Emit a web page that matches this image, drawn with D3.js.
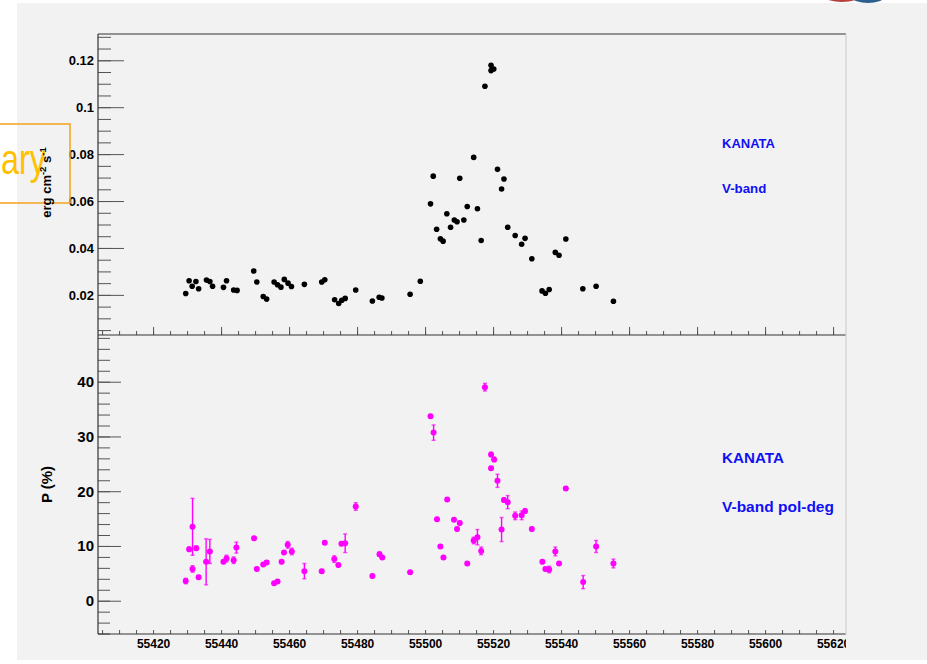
<!DOCTYPE html>
<html>
<head>
<meta charset="utf-8">
<script src="https://cdn.jsdelivr.net/npm/d3@7"></script>
<style>
  body { margin: 0; background: #fff; }
  text { font-family: "Liberation Sans", Arial, sans-serif; }
</style>
</head>
<body>
<script>
// V-band flux (top panel)
var fluxMjd = [55429.6, 55430.6, 55431.5, 55432.6, 55433.4, 55435.7, 55436.7, 55437.5,
  55440.7, 55441.6, 55443.7, 55444.7, 55449.6, 55450.5, 55452.4, 55453.4, 55455.6,
  55456.6, 55457.6, 55458.6, 55459.7, 55460.7, 55464.5, 55469.6, 55470.5, 55473.4,
  55474.6, 55475.5, 55476.5, 55479.6, 55484.5, 55486.5, 55487.3, 55495.6, 55498.6,
  55501.6, 55502.4, 55503.4, 55504.5, 55505.3, 55506.4, 55507.5, 55508.6, 55509.4,
  55510.2, 55511.4, 55512.4, 55514.3, 55515.4, 55516.5, 55517.6, 55519.4, 55519.4,
  55520.2, 55521.3, 55522.5, 55523.2, 55524.3, 55526.5, 55528.4, 55529.4, 55531.4,
  55534.4, 55535.4, 55536.5, 55538.3, 55539.4, 55541.4, 55546.4, 55550.3, 55555.4];
var fluxVal = [0.0206, 0.0260, 0.0237, 0.0257, 0.0226, 0.0263, 0.0257, 0.0237,
  0.0232, 0.0260, 0.0221, 0.0219, 0.0302, 0.0255, 0.0193, 0.0182, 0.0255,
  0.0243, 0.0233, 0.0266, 0.0250, 0.0236, 0.0245, 0.0255, 0.0264, 0.0179,
  0.0163, 0.0177, 0.0185, 0.0221, 0.0174, 0.0190, 0.0187, 0.0203, 0.0258,
  0.0588, 0.0706, 0.0480, 0.0439, 0.0429, 0.0546, 0.0488, 0.0519, 0.0512,
  0.0697, 0.0519, 0.0577, 0.0786, 0.0567, 0.0432, 0.1089, 0.1179, 0.1156,
  0.1163, 0.0735, 0.0651, 0.0694, 0.0488, 0.0453, 0.0416, 0.0441, 0.0354,
  0.0217, 0.0207, 0.0223, 0.0381, 0.0369, 0.0438, 0.0226, 0.0237, 0.0173];

// V-band polarization degree (bottom panel)
var polMjd = [55429.6, 55430.6, 55431.6, 55431.6, 55432.7, 55433.4, 55435.6, 55436.7,
  55440.7, 55441.6, 55443.7, 55444.5, 55449.7, 55450.5, 55452.4, 55453.4, 55455.6,
  55456.6, 55457.8, 55458.5, 55459.6, 55460.8, 55464.5, 55469.6, 55470.5, 55473.3,
  55474.5, 55475.4, 55476.5, 55479.6, 55484.5, 55486.6, 55487.4, 55495.6, 55501.6,
  55502.5, 55503.5, 55504.5, 55505.4, 55506.5, 55508.5, 55509.4, 55510.2, 55512.4,
  55514.3, 55515.4, 55516.5, 55517.6, 55519.4, 55520.3, 55519.4, 55521.3, 55522.5,
  55523.2, 55524.3, 55526.5, 55528.4, 55529.4, 55531.4, 55534.5, 55535.4, 55536.5,
  55538.3, 55539.4, 55541.4, 55546.5, 55550.3, 55555.4];
var polVal = [3.6, 9.4, 13.5, 5.8, 9.6, 4.3, 7.1, 9.0,
  7.1, 7.7, 7.4, 9.7, 11.4, 5.8, 6.6, 7.0, 3.2,
  3.5, 7.1, 8.8, 10.2, 9.0, 5.4, 5.4, 10.6, 7.6,
  6.5, 10.4, 10.5, 17.2, 4.5, 8.5, 7.9, 5.2, 33.7,
  30.7, 14.9, 9.9, 7.9, 18.5, 14.8, 13.1, 14.2, 6.8,
  11.0, 11.6, 9.1, 39.0, 26.7, 25.8, 24.2, 21.9, 13.0,
  18.4, 18.0, 15.5, 15.6, 16.4, 13.1, 7.1, 5.8, 5.7,
  9.0, 6.8, 20.5, 3.4, 9.9, 6.8];
var polErr = [0.5, 0.4, 5.2, 0.6, 0.4, 0.3, 4.2, 2.2,
  0.3, 0.6, 0.6, 1.0, 0.3, 0.3, 0.3, 0.3, 0.3,
  0.3, 0.3, 0.3, 0.6, 0.6, 1.4, 0.3, 0.3, 0.6,
  0.3, 0.3, 1.7, 0.7, 0.3, 0.4, 0.3, 0.3, 0.3,
  1.4, 0.3, 0.3, 0.3, 0.3, 0.3, 0.3, 0.3, 0.3,
  0.6, 1.4, 0.7, 0.7, 0.4, 0.4, 0.3, 1.2, 2.2,
  0.4, 1.2, 0.7, 0.8, 0.4, 0.3, 0.3, 0.3, 0.6,
  0.8, 0.3, 0.3, 1.2, 1.1, 0.8];

// Tick values
var xMajor = [55420, 55440, 55460, 55480, 55500, 55520, 55540, 55560, 55580, 55600, 55620];
var xMinor = d3.range(55405, 55624, 5);
var fluxMajor = [0.02, 0.04, 0.06, 0.08, 0.1, 0.12];
var fluxMinor = d3.range(1, 27).map(function(i) { return i * 0.005; });
var polMajor = [0, 10, 20, 30, 40];
var polMinor = d3.range(-6, 49, 2);

var w = 927, h = 664;
var left = 98, right = 846, top1 = 34, mid = 335, bot = 634;

var svg = d3.select("body").append("svg")
  .attr("width", w)
  .attr("height", h);

// slide background
svg.append("rect").attr("width", w).attr("height", h).attr("fill", "#fff");
svg.append("rect").attr("x", 17).attr("y", 3).attr("width", w - 17).attr("height", 657)
  .attr("fill", "#f2f2f2");

// little logo bits peeking in at the top right
svg.append("ellipse").attr("cx", 842).attr("cy", -4).attr("rx", 18).attr("ry", 6).attr("fill", "#b8403a");
svg.append("ellipse").attr("cx", 868).attr("cy", -3).attr("rx", 16).attr("ry", 6).attr("fill", "#2d5f8e");

var x = d3.scaleLinear().domain([55403.8, 55623.8]).range([left, right]);
var yFlux = d3.scaleLinear().domain([0.0029, 0.1312]).range([mid, top1]);
var yPol = d3.scaleLinear().domain([-6.08, 48.53]).range([bot, mid]);

svg.append("defs").append("clipPath").attr("id", "clip")
  .append("rect").attr("x", 0).attr("y", 0).attr("width", right).attr("height", h);

function styleAxis(g) {
  g.select(".domain").remove();
  g.selectAll(".tick line").attr("stroke", "#555");
  g.selectAll("text")
    .attr("font-family", "Liberation Sans, Arial, sans-serif")
    .attr("font-weight", "bold")
    .attr("fill", "#000");
}

// ---- top panel axes
svg.append("g").attr("transform", "translate(" + left + ",0)")
  .call(d3.axisLeft(yFlux).tickValues(fluxMinor).tickSize(-13).tickFormat(""))
  .call(styleAxis);
svg.append("g").attr("transform", "translate(" + left + ",0)")
  .call(d3.axisLeft(yFlux).tickValues(fluxMajor).tickSize(-26).tickPadding(4)
    .tickFormat(function(d) { return d3.format("~g")(d); }))
  .call(styleAxis)
  .selectAll("text").attr("font-size", 13);

svg.append("g").attr("transform", "translate(0," + mid + ")")
  .call(d3.axisBottom(x).tickValues(xMinor).tickSize(-4).tickFormat(""))
  .call(styleAxis);
svg.append("g").attr("transform", "translate(0," + mid + ")")
  .call(d3.axisBottom(x).tickValues(xMajor).tickSize(-8).tickFormat(""))
  .call(styleAxis);

// ---- bottom panel axes
svg.append("g").attr("transform", "translate(" + left + ",0)")
  .call(d3.axisLeft(yPol).tickValues(polMinor).tickSize(-12).tickFormat(""))
  .call(styleAxis);
svg.append("g").attr("transform", "translate(" + left + ",0)")
  .call(d3.axisLeft(yPol).tickValues(polMajor).tickSize(-23).tickPadding(4))
  .call(styleAxis)
  .selectAll("text").attr("font-size", 15);

svg.append("g").attr("transform", "translate(0," + bot + ")")
  .call(d3.axisBottom(x).tickValues(xMinor).tickSize(-4).tickFormat(""))
  .call(styleAxis);
svg.append("g").attr("transform", "translate(0," + bot + ")")
  .attr("clip-path", "url(#clip)")
  .call(d3.axisBottom(x).tickValues(xMajor).tickSize(-8).tickPadding(5.5)
    .tickFormat(d3.format("d")))
  .call(styleAxis)
  .selectAll("text").attr("font-size", 12);

// frame lines
var frame = svg.append("g").attr("stroke-width", 1.2).attr("fill", "none");
frame.append("line").attr("x1", left).attr("x2", left).attr("y1", top1).attr("y2", bot).attr("stroke", "#333");
frame.append("line").attr("x1", left).attr("x2", right).attr("y1", top1).attr("y2", top1).attr("stroke", "#333");
frame.append("line").attr("x1", left).attr("x2", right).attr("y1", mid).attr("y2", mid).attr("stroke", "#333");
frame.append("line").attr("x1", left).attr("x2", right).attr("y1", bot).attr("y2", bot).attr("stroke", "#333");
frame.append("line").attr("x1", right).attr("x2", right).attr("y1", top1).attr("y2", bot + 1).attr("stroke", "#cfcfcf");

// ---- top panel points
svg.append("g").selectAll("circle")
  .data(fluxMjd)
  .enter().append("circle")
  .attr("cx", function(d) { return x(d); })
  .attr("cy", function(d, i) { return yFlux(fluxVal[i]); })
  .attr("r", 2.8)
  .attr("fill", "#000");

// ---- bottom panel error bars and points
var eb = svg.append("g").attr("stroke", "#ff00ff").attr("stroke-width", 1.4);
polMjd.forEach(function(m, i) {
  var cx = x(m), lo = yPol(polVal[i] - polErr[i]), hi = yPol(polVal[i] + polErr[i]);
  eb.append("line").attr("x1", cx).attr("x2", cx).attr("y1", lo).attr("y2", hi);
  eb.append("line").attr("x1", cx - 2).attr("x2", cx + 2).attr("y1", lo).attr("y2", lo).attr("stroke-opacity", 0.7);
  eb.append("line").attr("x1", cx - 2).attr("x2", cx + 2).attr("y1", hi).attr("y2", hi).attr("stroke-opacity", 0.7);
});
svg.append("g").selectAll("circle")
  .data(polMjd)
  .enter().append("circle")
  .attr("cx", function(d) { return x(d); })
  .attr("cy", function(d, i) { return yPol(polVal[i]); })
  .attr("r", 3)
  .attr("fill", "#ff00ff");

// ---- labels in the panels
var blue = "#1010f5";
svg.append("text").attr("x", 722).attr("y", 148).attr("font-size", 13).attr("font-weight", "bold")
  .attr("fill", blue).text("KANATA");
svg.append("text").attr("x", 722).attr("y", 193).attr("font-size", 13.3).attr("font-weight", "bold")
  .attr("fill", blue).text("V-band");
svg.append("text").attr("x", 722).attr("y", 463).attr("font-size", 15.2).attr("font-weight", "bold")
  .attr("fill", blue).text("KANATA");
svg.append("text").attr("x", 722).attr("y", 512).attr("font-size", 15.5).attr("font-weight", "bold")
  .attr("fill", blue).text("V-band pol-deg");

// "Preliminary" stamp, cut off at the slide edge
svg.append("rect").attr("x", -2).attr("y", 124).attr("width", 72).attr("height", 79)
  .attr("fill", "none").attr("stroke", "#f4a21c").attr("stroke-width", 1.5);
svg.append("text").attr("x", 1).attr("y", 174)
  .attr("font-size", 42).attr("textLength", 45).attr("lengthAdjust", "spacingAndGlyphs")
  .attr("fill", "#ffc000").text("ary");

// y titles
var t1 = svg.append("text")
  .attr("transform", "translate(51," + ((top1 + mid) / 2 - 2) + ") rotate(-90)")
  .attr("text-anchor", "middle").attr("font-size", 13).attr("font-weight", "bold").attr("fill", "#000");
t1.append("tspan").text("erg cm");
t1.append("tspan").attr("dy", -5).attr("font-size", 9.5).text("-2");
t1.append("tspan").attr("dy", 5).text(" s");
t1.append("tspan").attr("dy", -5).attr("font-size", 9.5).text("-1");

svg.append("text")
  .attr("transform", "translate(52," + ((mid + bot) / 2) + ") rotate(-90)")
  .attr("text-anchor", "middle").attr("font-size", 15).attr("font-weight", "bold").attr("fill", "#000")
  .text("P (%)");
</script>
</body>
</html>
